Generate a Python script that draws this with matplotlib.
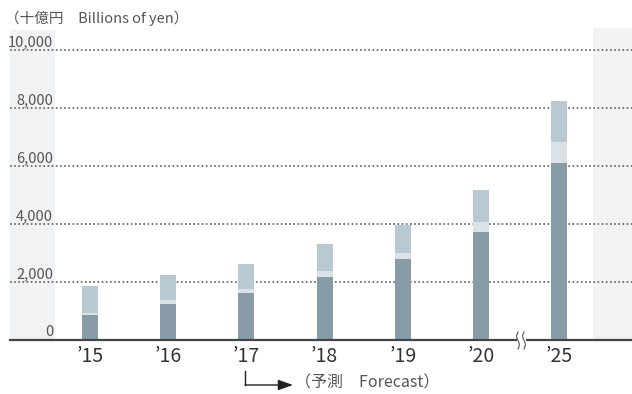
import matplotlib
matplotlib.use("Agg")
import matplotlib.pyplot as plt
from matplotlib.patches import Rectangle
import numpy as np

plt.rcParams['font.family'] = ['Noto Sans CJK JP', 'DejaVu Sans']

# --- DATA (billions of yen) ---
years = ["’15", "’16", "’17", "’18", "’19", "’20", "’25"]
base = [830, 1210, 1590, 2140, 2760, 3690, 6070]
middle = [70, 135, 135, 205, 240, 345, 725]
upper = [930, 895, 895, 965, 960, 1105, 1415]
y_ticks = [0, 2000, 4000, 6000, 8000, 10000]
y_tick_labels = ["0", "2,000", "4,000", "6,000", "8,000", "10,000"]

C_BASE = '#879ca6'
C_MID = '#dae1e7'
C_UP = '#b8c9d1'
C_PANEL = '#f1f2f4'
C_TEXT = '#555555'

W, H = 632, 394
fig = plt.figure(figsize=(W / 100, H / 100), dpi=100)
ax = fig.add_axes([10 / W, 1 - 339.5 / H, 622 / W, (339.5 - 28) / H])

px_x = 78.2          # pixels between bar centres
px_y = 58.0 / 2000   # pixels per billion yen
x0 = (90 - 10) / px_x
ax.set_xlim(-x0, -x0 + 622 / px_x)
ax.set_ylim(0, (339.5 - 28) / px_y)

x = np.arange(len(years))

# shaded side panels
ax.add_patch(Rectangle((-x0, 0), 45 / px_x, (339.5 - 30) / px_y,
                       color=C_PANEL, zorder=0, lw=0))
ax.add_patch(Rectangle(((593 - 90) / px_x, 0), 45 / px_x, (339.5 - 28) / px_y,
                       color=C_PANEL, zorder=0, lw=0))

# dotted gridlines
for v in y_ticks[1:]:
    ax.axhline(v, color='#5e5e5e', lw=1.2, linestyle=(0, (1, 1.5)), zorder=1)

bw = 16 / px_x
ax.bar(x, base, width=bw, color=C_BASE, zorder=3)
ax.bar(x, middle, width=bw, bottom=base, color=C_MID, zorder=3)
ax.bar(x, upper, width=bw, bottom=np.add(base, middle), color=C_UP, zorder=3)

for s in ax.spines.values():
    s.set_visible(False)
ax.axhline(0, color='#444444', lw=1.6, zorder=4, clip_on=False)

ax.set_yticks([])
ax.set_xticks(x)
ax.set_xticklabels(years, fontsize=14, color='#333333')
ax.tick_params(axis='x', length=0, pad=4.5)

for v, lab in zip(y_ticks, y_tick_labels):
    ax.annotate(lab, xy=(-x0 + 43 / px_x, v), xytext=(0, 2.5),
                textcoords='offset points', ha='right', va='baseline',
                fontsize=10.5, color=C_TEXT)

# axis break between '20 and '25
bx = (521 - 90) / px_x
ax.add_patch(Rectangle((bx - 4.5 / px_x, -3 / px_y), 9 / px_x, 6 / px_y,
                       color='white', zorder=5, clip_on=False, lw=0))
t = np.linspace(-1, 1, 30)
for dx in (-3, 3):
    xs = bx + (dx + 1.3 * np.sin(t * np.pi)) / px_x
    ys = -t * 8.5 / px_y - 1 / px_y
    ax.plot(xs, ys, color='#555555', lw=0.8, zorder=6, clip_on=False)

fig.text(5 / W, 1 - 18 / H, "（十億円　Billions of yen）", fontsize=10.5,
         color=C_TEXT, va='center', ha='left')

# forecast marker under '17
ax.annotate("", xy=(293, H - 385), xycoords='figure pixels',
            xytext=(245, H - 385), textcoords='figure pixels',
            arrowprops=dict(arrowstyle='-|>,head_length=0.9,head_width=0.32',
                            color='#222222', lw=1.0, shrinkA=0, shrinkB=0))
fig.add_artist(plt.Line2D([245 / W, 245 / W], [1 - 371 / H, 1 - 385 / H],
                          color='#222222', lw=1.0))
fig.text(295 / W, 1 - 383 / H, "（予測　Forecast）", fontsize=11.5,
         color=C_TEXT, va='center', ha='left')

fig.savefig("out.png", dpi=100)
